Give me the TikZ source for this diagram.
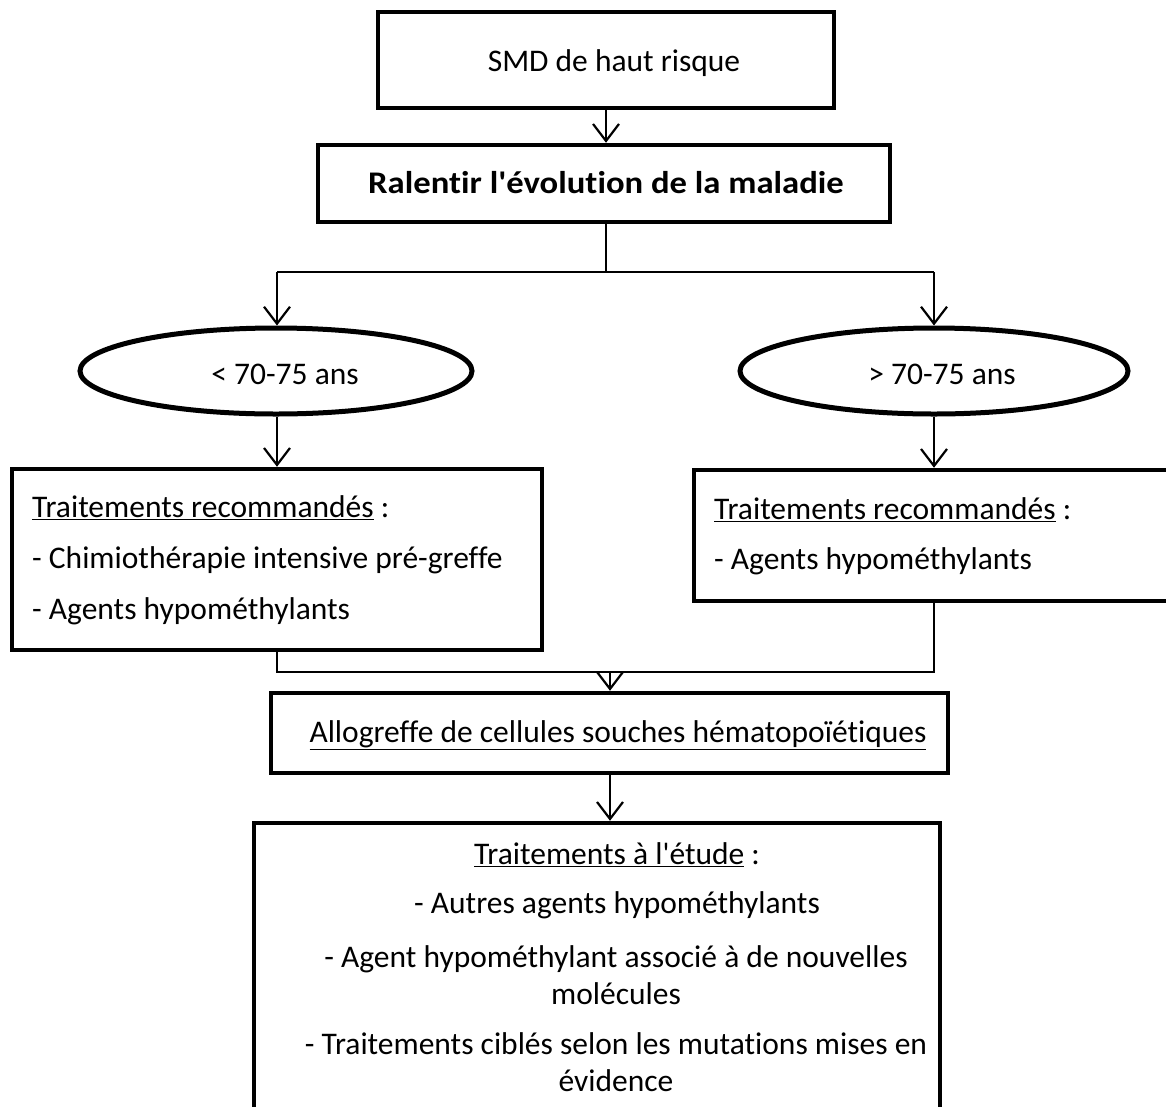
\documentclass[tikz,border=0pt]{standalone}
\usepackage{fontspec}
\setmainfont[Ligatures=NoCommon]{Carlito}
\usetikzlibrary{arrows.meta,shapes.geometric}
\begin{document}
\begin{tikzpicture}[x=1pt,y=-1pt,
  box/.style={draw,line width=4.5pt,rectangle,inner sep=0pt},
  oval/.style={draw,line width=5pt,ellipse,inner sep=0pt},
  txt/.style={inner sep=0pt,font=\fontsize{31.5}{37}\selectfont},
  conn/.style={line width=2.2pt},
  arr/.style={line width=2.2pt,-{Straight Barb[length=17pt,width=26pt,line width=2.2pt]}}]
\useasboundingbox[fill=white] (0,0) rectangle (1166,1106);
% boxes
\node[box,minimum width=456pt,minimum height=96pt] (b1) at (606,60) {};
\node[txt] (t1) at (614,63) {SMD de haut risque};
\node[box,minimum width=572pt,minimum height=77pt] (b2) at (604,183.5) {};
\node[txt,font=\fontsize{31.5}{37}\selectfont\bfseries,xscale=1.1,transform shape] (t2) at (606,183) {Ralentir l\textquotesingle évolution de la maladie};
\node[oval,minimum width=392pt,minimum height=86pt] (e1) at (276,371) {};
\node[txt] (te1) at (285,374) {< 70-75 ans};
\node[oval,minimum width=388pt,minimum height=86pt] (e2) at (934,371) {};
\node[txt] (te2) at (942,374) {> 70-75 ans};
\node[box,minimum width=530pt,minimum height=181pt] (b3) at (277,559.5) {};
\node[txt,anchor=west,align=left,font=\fontsize{31.5}{51}\selectfont] (t3) at (32,560)
  {\underline{Traitements recommandés} :\\- Chimiothérapie intensive pré-greffe\\- Agents hypométhylants};
\node[box,minimum width=478pt,minimum height=131pt] (b4) at (933,535.5) {};
\node[txt,anchor=west,align=left,font=\fontsize{31.5}{50}\selectfont] (t4) at (714,536)
  {\underline{Traitements recommandés} :\\- Agents hypométhylants};
\node[box,minimum width=677pt,minimum height=80pt] (b5) at (609.5,733) {};
\node[txt] (t5) at (618,735) {\underline{Allogreffe de cellules souches hématopoïétiques}};
\node[box,minimum width=686pt,minimum height=290pt] (b6) at (597,968) {};
\node[txt] (t6a) at (617,855) {\underline{Traitements à l\textquotesingle étude} :};
\node[txt] (t6b) at (617,905) {- Autres agents hypométhylants};
\node[txt,align=center] (t6c) at (616,975) {- Agent hypométhylant associé à de nouvelles\\molécules};
\node[txt,align=center] (t6d) at (616,1062) {- Traitements ciblés selon les mutations mises en\\évidence};
% connectors
\coordinate (j1) at (606,272);
\coordinate (jl) at (277,272);
\coordinate (jr) at (934,272);
\coordinate (k1) at (610,672);
\coordinate (kl) at (277,672);
\coordinate (kr) at (934,672);
\draw[arr] (b1.south -| 606,0) -- (b2.north -| 606,0);
\draw[conn] (b2.south -| 606,0) -- (j1);
\draw[conn] (jl) -- (jr);
\draw[arr] (jl) -- (e1.north -| 277,0);
\draw[arr] (jr) -- (e2.north);
\draw[arr] (e1.south -| 277,0) -- (b3.north);
\draw[arr] (e2.south) -- (b4.north -| 934,0);
\draw[conn] (b3.south) -- (kl) -- (kr) -- (b4.south -| 934,0);
\draw[arr] (k1) -- (b5.north -| 610,0);
\draw[arr] (b5.south -| 610,0) -- (b6.north -| 610,0);
\end{tikzpicture}
\end{document}
